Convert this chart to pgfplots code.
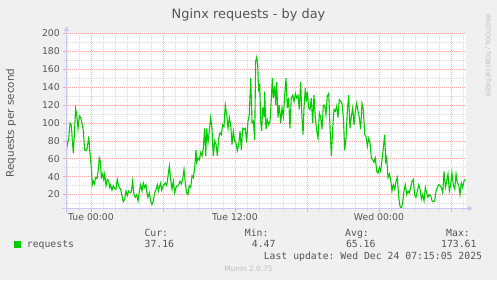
\documentclass[border=0pt]{standalone}
\usepackage{fontspec}
\setmainfont{DejaVu Sans}
\setmonofont{DejaVu Sans Mono}
\usepackage{pgfplots}
\pgfplotsset{compat=1.18}
\usetikzlibrary{arrows.meta}
\definecolor{bgc}{HTML}{F0F0F0}
\definecolor{txtc}{HTML}{555555}
\definecolor{lightc}{HTML}{BEBEBE}
\definecolor{mgrid}{RGB}{245,165,165}
\definecolor{ngrid}{RGB}{218,218,218}
\definecolor{axcol}{RGB}{200,202,245}
\definecolor{linegreen}{HTML}{00CC00}
\pgfplotstableread{
h v
-2.08 68
-2.03 72
-1.92 80
-1.86 81
-1.75 100
-1.64 98
-1.56 81
-1.47 66
-1.36 94
-1.28 116
-1.19 109
-1.08 94
-0.97 108
-0.86 106
-0.75 100
-0.64 91
-0.53 70
-0.42 69
-0.31 72
-0.19 85
-0.08 65
0.03 50
0.11 31
0.19 35
0.28 32
0.39 39
0.50 38
0.61 48
0.69 61
0.78 57
0.86 39
0.97 43
1.06 37
1.14 43
1.25 30
1.36 37
1.47 35
1.56 28
1.64 31
1.75 25
1.86 30
1.97 27
2.08 26
2.19 37
2.28 31
2.36 28
2.47 26
2.58 19
2.69 12
2.81 15
2.92 24
3.03 19
3.14 24
3.25 22
3.36 23
3.47 35
3.58 20
3.69 17
3.81 20
3.92 13
4.03 24
4.14 31
4.25 24
4.36 33
4.47 28
4.58 31
4.64 24
4.75 17
4.86 22
4.97 13
5.08 9
5.19 13
5.31 22
5.42 26
5.53 31
5.61 24
5.69 28
5.81 33
5.89 25
5.97 28
6.08 31
6.19 33
6.31 30
6.42 41
6.53 52
6.64 37
6.75 26
6.86 35
6.97 22
7.08 28
7.19 30
7.31 31
7.42 35
7.53 32
7.64 37
7.75 48
7.86 33
7.97 22
8.08 20
8.19 30
8.31 28
8.42 41
8.53 39
8.64 50
8.75 70
8.81 56
8.92 61
9.03 59
9.14 67
9.25 63
9.36 72
9.47 94
9.56 63
9.64 94
9.75 78
9.86 91
9.97 106
10.08 94
10.19 63
10.31 80
10.42 76
10.53 63
10.64 83
10.75 89
10.86 87
10.97 98
11.08 96
11.19 120
11.31 109
11.42 94
11.53 106
11.64 98
11.75 76
11.86 91
11.97 80
12.08 78
12.19 69
12.31 76
12.42 91
12.53 70
12.64 94
12.75 93
12.86 94
12.97 78
13.08 102
13.19 109
13.31 150
13.42 100
13.53 102
13.64 81
13.72 169
13.81 173.6
13.89 165
13.97 135
14.06 144
14.14 102
14.22 91
14.31 117
14.42 107
14.47 135
14.58 93
14.69 104
14.81 98
14.92 102
15.03 128
15.11 150
15.19 128
15.31 141
15.39 120
15.47 146
15.58 106
15.69 120
15.81 100
15.92 117
16.03 107
16.14 131
16.25 150
16.36 117
16.47 128
16.58 94
16.69 128
16.81 131
16.92 124
17.03 133
17.14 128
17.25 131
17.36 115
17.47 146
17.58 106
17.67 87
17.75 117
17.86 139
17.94 124
18.03 135
18.14 117
18.25 115
18.36 128
18.47 100
18.58 131
18.69 106
18.81 91
18.92 83
19.03 111
19.14 106
19.25 93
19.36 120
19.47 120
19.58 109
19.69 130
19.81 133
19.92 94
20.03 63
20.14 94
20.25 115
20.36 113
20.47 119
20.58 106
20.69 126
20.81 124
20.92 122
21.03 106
21.14 70
21.25 83
21.36 113
21.47 131
21.58 94
21.69 107
21.81 117
21.92 98
22.03 113
22.14 122
22.25 113
22.36 106
22.47 93
22.58 122
22.69 115
22.81 87
22.92 85
23.03 74
23.14 83
23.25 78
23.36 61
23.47 59
23.58 56
23.69 61
23.81 46
23.92 44
24.03 50
24.14 46
24.25 59
24.36 72
24.47 87
24.56 57
24.64 61
24.75 39
24.86 43
24.97 37
25.08 24
25.19 31
25.31 26
25.42 35
25.53 39
25.64 17
25.75 7
25.86 4.47
25.97 11
26.08 24
26.19 31
26.31 20
26.42 24
26.53 22
26.64 28
26.75 35
26.86 37
26.97 19
27.08 17
27.19 24
27.31 31
27.42 26
27.53 15
27.64 20
27.75 13
27.86 28
27.97 22
28.08 17
28.19 20
28.31 19
28.42 13
28.53 12
28.64 13
28.75 24
28.86 28
28.97 31
29.08 30
29.19 28
29.31 22
29.42 46
29.53 28
29.64 35
29.75 43
29.86 24
29.97 31
30.08 44
30.19 31
30.31 26
30.42 43
30.53 33
30.64 31
30.75 20
30.86 33
30.97 28
31.08 35
31.19 37.16
}\reqtable
\newcommand{\tickfont}{\fontsize{9.3bp}{11bp}\selectfont}
\newcommand{\monofont}{\ttfamily\fontsize{9.8bp}{11bp}\selectfont}
\begin{document}
\begin{tikzpicture}[x=1bp,y=1bp]
\path[use as bounding box, fill=bgc] (0,0) rectangle (497,280);
\begin{axis}[
  name=ax,
  at={(66bp,71.5bp)}, anchor=south west,
  scale only axis, width=400bp, height=175bp,
  xmin=-2.083, xmax=31.25, ymin=4.47, ymax=200,
  axis background/.style={fill=white},
  axis line style={draw=none},
  xtick pos=bottom, ytick pos=left,
  xtick={0,6,12,18,24,30},
  xticklabels={Tue 00:00,,Tue 12:00,,Wed 00:00,},
  minor xtick={-2,-1,1,2,3,4,5,7,8,9,10,11,13,14,15,16,17,19,20,21,22,23,25,26,27,28,29,31},
  ytick={20,40,...,200},
  minor ytick={10,30,...,190},
  grid=both,
  major grid style={draw=mgrid, dash pattern=on 1bp off 1bp, line width=0.7bp},
  minor grid style={draw=ngrid, dash pattern=on 1bp off 1bp, line width=0.7bp},
  tick align=outside,
  major tick length=3bp, minor tick length=2bp,
  major tick style={draw=mgrid, line width=0.8bp},
  minor tick style={draw=ngrid, line width=0.8bp},
  /pgf/number format/assume math mode=true,
  xticklabel style={font=\tickfont, text=txtc, inner sep=0pt, anchor=north, yshift=-2bp},
  yticklabel style={font=\tickfont, text=txtc, inner sep=0pt, anchor=east, xshift=-3bp},
  clip=true,
]
\addplot[color=linegreen, line width=1.1bp, mark=none] table[x=h, y=v] {\reqtable};
\end{axis}
% axes with arrows
\draw[axcol, line width=1bp, -{Triangle[length=5bp,width=5bp]}] (62,71.5) -- (473,71.5);
\draw[axcol, line width=1bp, -{Triangle[length=5bp,width=5bp]}] (66.5,67.5) -- (66.5,254);
% title
\node[anchor=base, inner sep=0pt, text=txtc, font=\fontsize{12.9bp}{15bp}\selectfont] at (248.5,261.7) {Nginx requests - by day};
% y label
\node[rotate=90, inner sep=0pt, text=txtc, font=\fontsize{10.4bp}{12bp}\selectfont] at (11,157) {Requests per second};
% rrdtool tag
\node[rotate=-90, inner sep=0pt, text=lightc, font=\fontsize{6.4bp}{8bp}\selectfont] at (488,224.5) {RRDTOOL / TOBI OETIKER};
% legend
\node[anchor=base east, inner sep=0pt, text=txtc, font=\monofont] at (168.3,44) {Cur:};
\node[anchor=base east, inner sep=0pt, text=txtc, font=\monofont] at (268.7,44) {Min:};
\node[anchor=base east, inner sep=0pt, text=txtc, font=\monofont] at (369,44) {Avg:};
\node[anchor=base east, inner sep=0pt, text=txtc, font=\monofont] at (470,44) {Max:};
\fill[linegreen] (14,32.5) rectangle (20.5,39);
\node[anchor=base west, inner sep=0pt, text=txtc, font=\monofont] at (26.7,32.3) {requests};
\node[anchor=base east, inner sep=0pt, text=txtc, font=\monofont] at (174.3,32.3) {37.16};
\node[anchor=base east, inner sep=0pt, text=txtc, font=\monofont] at (275.7,32.3) {4.47};
\node[anchor=base east, inner sep=0pt, text=txtc, font=\monofont] at (375.7,32.3) {65.16};
\node[anchor=base east, inner sep=0pt, text=txtc, font=\monofont] at (476.7,32.3) {173.61};
\node[anchor=base east, inner sep=0pt, text=txtc, font=\monofont] at (482.3,20.7) {Last update: Wed Dec 24 07:15:05 2025};
\node[anchor=base, inner sep=0pt, text=lightc, font=\fontsize{7.4bp}{9bp}\selectfont] at (248.5,8.3) {Munin 2.0.75};
\end{tikzpicture}
\end{document}
